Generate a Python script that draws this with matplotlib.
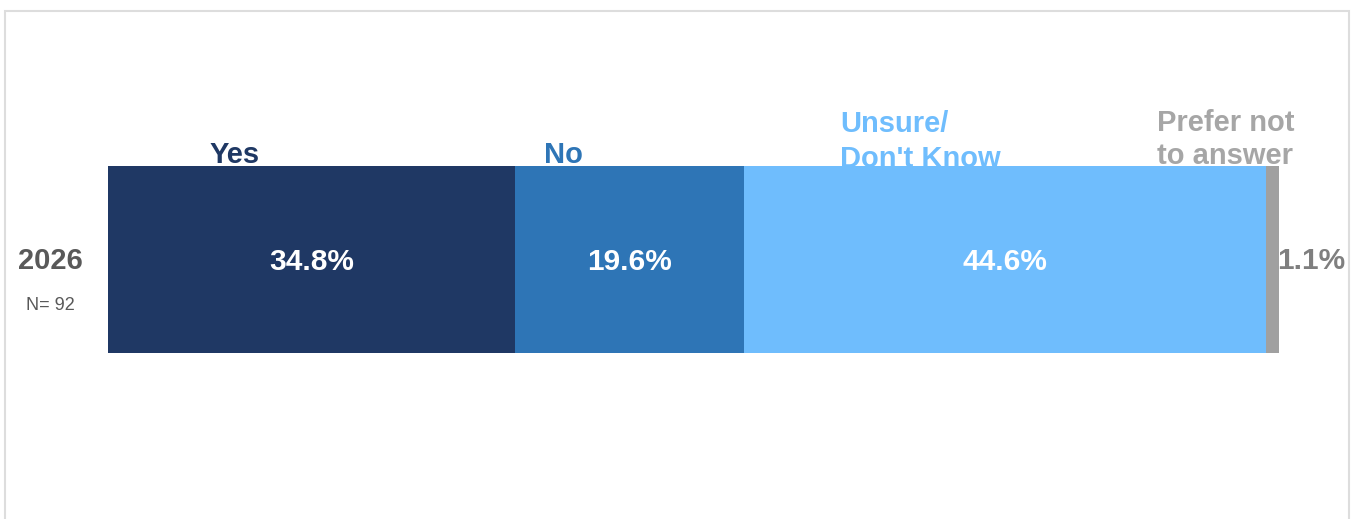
import matplotlib
matplotlib.use("Agg")
import matplotlib.pyplot as plt
from matplotlib.patches import Rectangle

categories = ["Yes", "No", "Unsure/\nDon't Know", "Prefer not\nto answer"]
values = [34.8, 19.6, 44.6, 1.1]
value_labels = ["34.8%", "19.6%", "44.6%", "1.1%"]
row_label = "2026"
n_label = "N= 92"

colors = ["#1F3864", "#2E75B6", "#6FBDFD", "#A0A0A0"]
cat_text_colors = ["#1F3864", "#2E75B6", "#6FBDFD", "#A6A6A6"]
# layout of category labels: left x (data units), last-line baseline (px from top), line pitch (px)
cat_x = [8.7, 37.3, 62.6, 89.7]
cat_base_px = [163, 163, 167, 164]
cat_pitch_px = [0, 0, 35, 33]

W, H = 1351, 519
fig = plt.figure(figsize=(W / 100, H / 100), dpi=100)
fig.patch.set_facecolor("white")
plt.rcParams['font.family'] = ['Liberation Sans', 'DejaVu Sans']

# frame
fig.patches.append(Rectangle((5.5 / W, -0.05), (1349 - 5.5) / W, (H - 11) / H + 0.05,
                             transform=fig.transFigure, fill=False,
                             edgecolor="#DDDDDD", linewidth=1.5))

x0, x1 = 108, 1279
ytop, ybot = 166, 353
bh = ybot - ytop
ax = fig.add_axes([x0 / W, (H - ybot) / H, (x1 - x0) / W, bh / H])
total = sum(values)
ax.set_xlim(0, total)
ax.set_ylim(-0.5, 0.5)
ax.axis("off")


def py2y(py):
    return 0.5 - (py - ytop) / bh


left = 0
for i, (v, c, lab) in enumerate(zip(values, colors, value_labels)):
    ax.barh(0, v, left=left, height=1.0, color=c, edgecolor="none", zorder=2)
    if i < 3:
        ax.text(left + v / 2, py2y(270), lab, ha="center", va="baseline", color="white",
                fontsize=21.5, fontweight="bold", zorder=3)
    else:
        ax.text(left + v - 0.2, py2y(269), lab, ha="left", va="baseline", color="#7F7F7F",
                fontsize=21.5, fontweight="bold", clip_on=False, zorder=3)
    left += v

for cat, cx, tc, bp, pitch in zip(categories, cat_x, cat_text_colors, cat_base_px, cat_pitch_px):
    lines = cat.split("\n")
    n = len(lines)
    for k, line in enumerate(lines):
        py = bp - (n - 1 - k) * pitch
        ax.text(cx, py2y(py), line, ha="left", va="baseline", color=tc,
                fontsize=21, fontweight="bold", clip_on=False, zorder=1)

fig.text(50 / W, 1 - 269 / H, row_label, ha="center", va="baseline",
         fontsize=21, fontweight="bold", color="#595959")
fig.text(50 / W, 1 - 310 / H, n_label, ha="center", va="baseline",
         fontsize=13, color="#595959")

fig.savefig("out.png", dpi=100, facecolor="white")
